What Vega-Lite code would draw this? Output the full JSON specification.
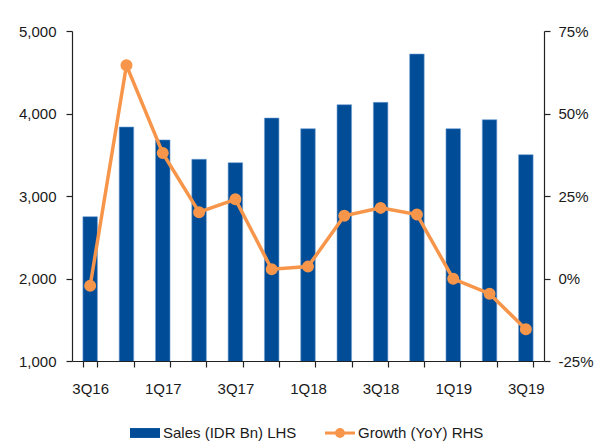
{
  "$schema": "https://vega.github.io/schema/vega-lite/v6.json",
  "width": 472,
  "height": 330,
  "autosize": {"type": "none"},
  "padding": {"left": 72, "top": 31, "right": 50, "bottom": 82},
  "background": "white",
  "config": {
    "view": {"stroke": null},
    "font": "Liberation Sans",
    "axis": {"labelFont": "Liberation Sans", "labelFontSize": 15, "labelColor": "#1a1a1a", "domainColor": "#222222", "tickColor": "#222222", "grid": false, "title": null, "domainWidth": 1.2, "tickWidth": 1.2},
    "legend": {"labelFont": "Liberation Sans", "labelFontSize": 15, "labelColor": "#1a1a1a", "title": null, "orient": "none", "direction": "horizontal", "labelOffset": 3, "symbolSize": 900}
  },
  "data": {
    "values": [
      {"q": "3Q16", "sales": 2750, "growth": -2.2},
      {"q": "4Q16", "sales": 3836, "growth": 64.6},
      {"q": "1Q17", "sales": 3680, "growth": 38.0},
      {"q": "2Q17", "sales": 3445, "growth": 20.1},
      {"q": "3Q17", "sales": 3404, "growth": 24.0},
      {"q": "4Q17", "sales": 3945, "growth": 2.8},
      {"q": "1Q18", "sales": 3816, "growth": 3.6},
      {"q": "2Q18", "sales": 4107, "growth": 19.0},
      {"q": "3Q18", "sales": 4135, "growth": 21.4},
      {"q": "4Q18", "sales": 4721, "growth": 19.4},
      {"q": "1Q19", "sales": 3816, "growth": -0.1},
      {"q": "2Q19", "sales": 3925, "growth": -4.6},
      {"q": "3Q19", "sales": 3501, "growth": -15.4}
    ]
  },
  "encoding": {
    "x": {
      "field": "q", "type": "nominal", "sort": null,
      "scale": {"paddingInner": 0.6, "paddingOuter": 0.3},
      "axis": {"labelAngle": 0, "tickBand": "extent", "tickSize": 6, "labelPadding": 14,
        "labelExpr": "(slice(datum.label,0,1) == '1' || slice(datum.label,0,1) == '3') ? datum.label : ''"}
    }
  },
  "layer": [
    {
      "mark": {"type": "bar", "color": "#004C97", "stroke": "#6f9fd4", "strokeWidth": 0.6, "clip": true},
      "encoding": {
        "y": {"field": "sales", "type": "quantitative",
          "scale": {"domain": [1000, 5000], "zero": false, "nice": false},
          "axis": {"values": [1000, 2000, 3000, 4000, 5000], "format": ",.0f", "tickSize": 6, "labelPadding": 10}},
        "fill": {"datum": "Sales (IDR Bn) LHS", "type": "nominal",
          "scale": {"domain": ["Sales (IDR Bn) LHS"], "range": ["#004C97"]},
          "legend": {
            "legendX": 58, "legendY": 387,
            "symbolType": "M-1,-0.33H1V0.33H-1Z", "symbolStrokeWidth": 0
          }
        }
      }
    },
    {
      "mark": {"type": "line", "color": "#F7964A", "strokeWidth": 3.5, "point": {"filled": true, "size": 100, "color": "#F7964A"}},
      "encoding": {
        "y": {"field": "growth", "type": "quantitative",
          "scale": {"domain": [-25, 75], "zero": false, "nice": false},
          "axis": {"orient": "right", "values": [-25, 0, 25, 50, 75], "labelExpr": "datum.value + '%'", "tickSize": 6, "labelPadding": 8}},
        "stroke": {"datum": "Growth (YoY) RHS", "type": "nominal",
          "scale": {"domain": ["Growth (YoY) RHS"], "range": ["#F7964A"]},
          "legend": {
            "legendX": 253, "legendY": 387,
            "symbolType": "M-1,-0.1H1V0.1H-1Z M0.33,0A0.33,0.33 0 1,1 -0.33,0A0.33,0.33 0 1,1 0.33,0Z",
            "symbolFillColor": "#F7964A", "symbolStrokeWidth": 0
          }
        }
      }
    }
  ],
  "resolve": {"scale": {"y": "independent"}}
}
